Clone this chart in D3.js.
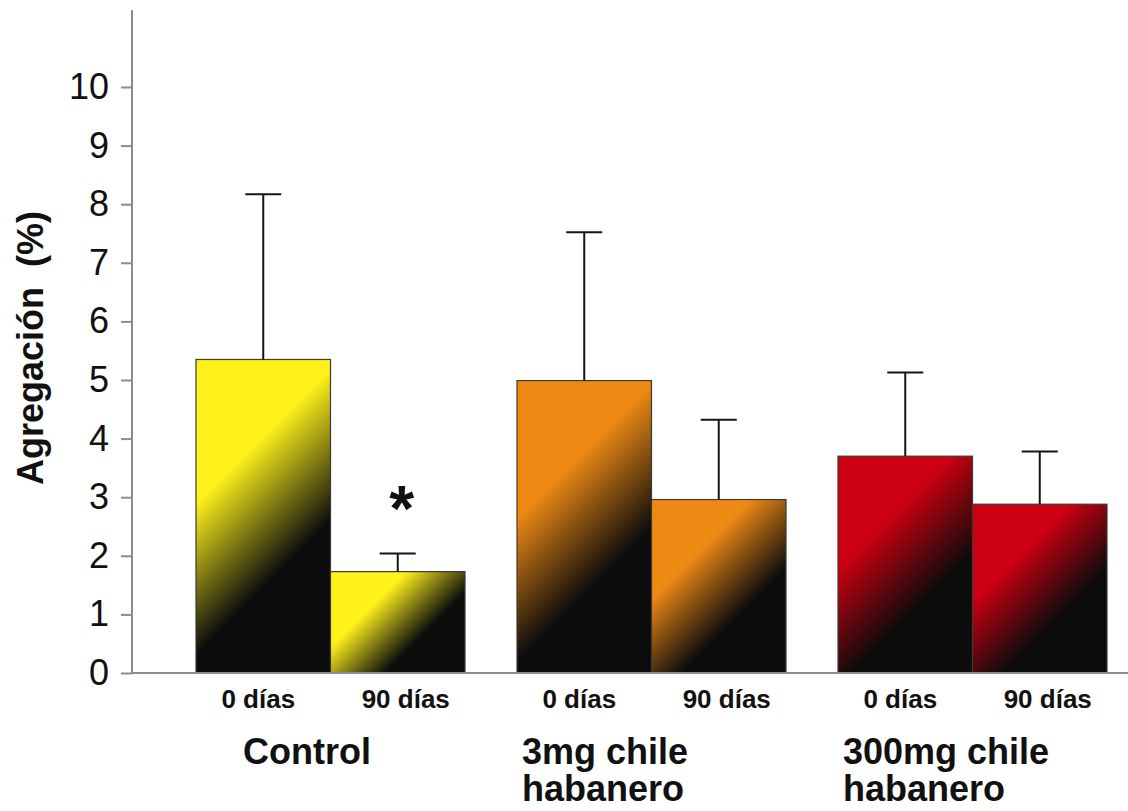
<!DOCTYPE html>
<html lang="es">
<head>
<meta charset="UTF-8">
<title>Agregación (%)</title>
<script src="https://d3js.org/d3.v7.min.js"></script>
<style>
  body { margin: 0; background: #fff; }
  svg { display: block; font-family: "Liberation Sans", Arial, sans-serif; }
</style>
</head>
<body>
<svg id="chart" width="1128" height="811"></svg>
<script>
    // datos
    const groups = ["Control", "3mg chile habanero", "300mg chile habanero"];
    const groupLines = [["Control"], ["3mg chile", "habanero"], ["300mg chile", "habanero"]];
    const times = ["0 días", "90 días"];
    const means = [[5.35, 1.73], [4.99, 2.96], [3.70, 2.88]];
    const errors = [[2.82, 0.31], [2.53, 1.36], [1.43, 0.90]];
    const groupColors = ["#fff21a", "#ee8a14", "#cc0010"];
    const yTicks = [0, 1, 2, 3, 4, 5, 6, 7, 8, 9, 10];
    const significant = [[false, true], [false, false], [false, false]];

    const svg = d3.select("#chart");

    const y = d3.scaleLinear().domain([0, 10]).range([673, 87]);
    const x0 = d3.scaleBand().domain(groups).range([170, 1133])
        .paddingInner(0.162).paddingOuter(0.081);
    const x1 = d3.scaleBand().domain(times).range([0, x0.bandwidth()]);

    const defs = svg.append("defs");

    const rows = [];
    groups.forEach((g, gi) => {
        times.forEach((t, ti) => {
            rows.push({ g, gi, t, ti, v: means[gi][ti], e: errors[gi][ti], star: significant[gi][ti] });
        });
    });

    // degradado diagonal a 45° para cada barra
    rows.forEach((d, i) => {
        const bx = x0(d.g) + x1(d.t), bw = x1.bandwidth();
        const by = y(d.v), bb = y(0);
        const s0 = bx + by, s1 = bx + bw + bb;
        const grad = defs.append("linearGradient")
            .attr("id", "grad" + i)
            .attr("gradientUnits", "userSpaceOnUse")
            .attr("x1", s0 / 2).attr("y1", s0 / 2)
            .attr("x2", s1 / 2).attr("y2", s1 / 2);
        grad.append("stop").attr("offset", 0.32).attr("stop-color", groupColors[d.gi]);
        grad.append("stop").attr("offset", 0.66).attr("stop-color", "#0c0c0c");
    });

    // barras
    svg.append("g").selectAll("rect")
        .data(rows)
        .join("rect")
        .attr("x", d => x0(d.g) + x1(d.t))
        .attr("y", d => y(d.v))
        .attr("width", x1.bandwidth())
        .attr("height", d => y(0) - y(d.v))
        .attr("fill", (d, i) => `url(#grad${i})`)
        .attr("stroke", "#3a3a3a")
        .attr("stroke-width", 1.2);

    // barras de error
    const err = svg.append("g").attr("stroke", "#151515").attr("stroke-width", 2);
    rows.forEach(d => {
        const cx = x0(d.g) + x1(d.t) + x1.bandwidth() / 2;
        err.append("line")
            .attr("x1", cx).attr("x2", cx)
            .attr("y1", y(d.v)).attr("y2", y(d.v + d.e));
        err.append("line")
            .attr("x1", cx - 18).attr("x2", cx + 18)
            .attr("y1", y(d.v + d.e)).attr("y2", y(d.v + d.e));
    });

    // asterisco
    svg.append("g").selectAll("text")
        .data(rows.filter(d => d.star))
        .join("text")
        .attr("x", d => x0(d.g) + x1(d.t) + x1.bandwidth() / 2 + 4)
        .attr("y", d => y(d.v + d.e) - 22)
        .attr("text-anchor", "middle")
        .attr("font-size", 64)
        .attr("font-weight", "bold")
        .attr("fill", "#111")
        .text("*");

    // eje y
    const yAxis = svg.append("g").attr("transform", "translate(132,0)")
        .call(d3.axisLeft(y).tickValues(yTicks).tickSize(11).tickPadding(12));
    yAxis.select(".domain").remove();
    yAxis.selectAll(".tick line").attr("stroke", "#8c8c8c").attr("stroke-width", 2);
    yAxis.selectAll(".tick text")
        .attr("font-size", 36)
        .attr("font-family", "Liberation Sans, Arial, sans-serif")
        .attr("fill", "#111");
    svg.append("line")
        .attr("x1", 132).attr("x2", 132)
        .attr("y1", 10).attr("y2", y(0) + 1)
        .attr("stroke", "#8c8c8c").attr("stroke-width", 2);
    svg.append("line")
        .attr("x1", 131).attr("x2", 1128)
        .attr("y1", y(0)).attr("y2", y(0))
        .attr("stroke", "#8c8c8c").attr("stroke-width", 2);

    svg.append("text")
        .attr("transform", "translate(43,348) rotate(-90)")
        .attr("text-anchor", "middle")
        .attr("font-size", 36)
        .attr("font-weight", "bold")
        .attr("fill", "#111")
        .attr("xml:space", "preserve")
        .text("Agregación  (%)");

    // etiquetas de tiempo
    svg.append("g").selectAll("text")
        .data(rows)
        .join("text")
        .attr("x", d => x0(d.g) + x1(d.t) + x1.bandwidth() / 2 + (d.ti === 0 ? -5 : 8))
        .attr("y", 708)
        .attr("text-anchor", "middle")
        .attr("font-size", 26)
        .attr("font-weight", "bold")
        .attr("fill", "#111")
        .text(d => d.t);

    // etiquetas de grupo
    const gl = svg.append("g").selectAll("text")
        .data(groups)
        .join("text")
        .attr("x", (d, i) => i === 0 ? x0(d) + 47 : x0(d) + 5)
        .attr("y", 764)
        .attr("font-size", 36)
        .attr("font-weight", "bold")
        .attr("fill", "#111");
    gl.selectAll("tspan")
        .data((d, i) => groupLines[i].map(s => ({ s, x: i === 0 ? x0(d) + 47 : x0(d) + 5 })))
        .join("tspan")
        .attr("x", d => d.x)
        .attr("dy", (d, i) => i === 0 ? 0 : 37)
        .text(d => d.s);
</script>
</body>
</html>
